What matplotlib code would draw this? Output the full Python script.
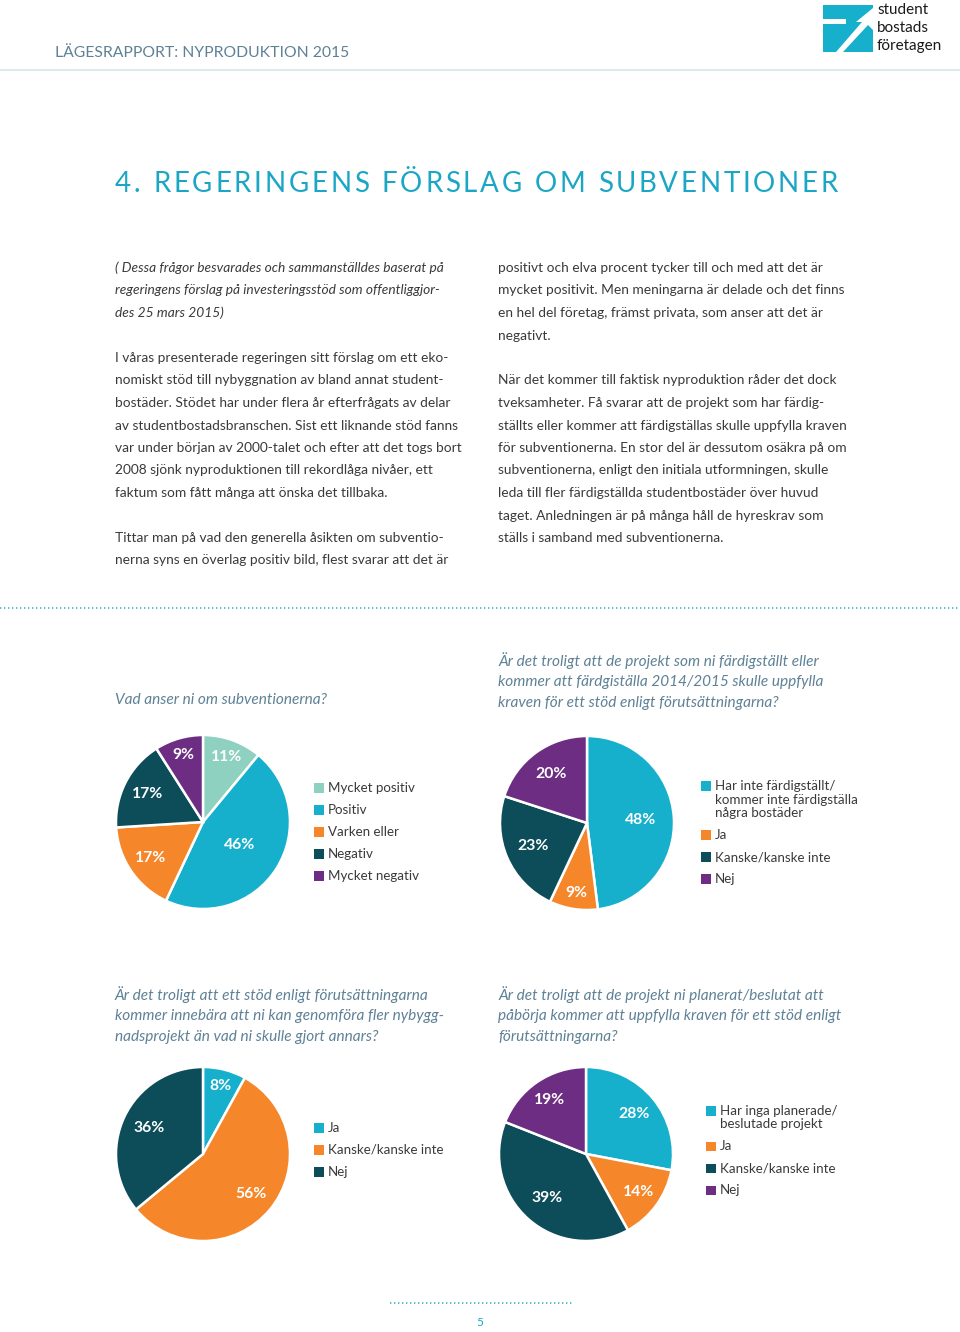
import numpy as np
import matplotlib.pyplot as plt
from matplotlib.patches import Rectangle, Polygon

plt.rcParams['font.family'] = ['Lato', 'DejaVu Sans']

# --- data -------------------------------------------------------------
q1_labels = ["Mycket positiv", "Positiv", "Varken eller", "Negativ", "Mycket negativ"]
q1_values = [11, 46, 17, 17, 9]

q2_labels = ["Har inte färdigställt/\nkommer inte färdigställa\nnågra bostäder", "Ja", "Kanske/kanske inte", "Nej"]
q2_values = [48, 9, 23, 20]

q3_labels = ["Ja", "Kanske/kanske inte", "Nej"]
q3_values = [8, 56, 36]

q4_labels = ["Har inga planerade/\nbeslutade projekt", "Ja", "Kanske/kanske inte", "Nej"]
q4_values = [28, 14, 39, 19]

LTEAL, CYAN, ORANGE, DARK, PURPLE = '#8fd1c1', '#17b0cc', '#f5862a', '#0d4d5a', '#6c2d82'
q1_colors = [LTEAL, CYAN, ORANGE, DARK, PURPLE]
q2_colors = [CYAN, ORANGE, DARK, PURPLE]
q3_colors = [CYAN, ORANGE, DARK]
q4_colors = [CYAN, ORANGE, DARK, PURPLE]

q1_title = "Vad anser ni om subventionerna?"
q2_title = ("Är det troligt att de projekt som ni färdigställt eller\n"
            "kommer att färdgiställa 2014/2015 skulle uppfylla\n"
            "kraven för ett stöd enligt förutsättningarna?")
q3_title = ("Är det troligt att ett stöd enligt förutsättningarna\n"
            "kommer innebära att ni kan genomföra fler nybygg-\n"
            "nadsprojekt än vad ni skulle gjort annars?")
q4_title = ("Är det troligt att de projekt ni planerat/beslutat att\n"
            "påbörja kommer att uppfylla kraven för ett stöd enligt\n"
            "förutsättningarna?")

intro_italic = ["( Dessa frågor besvarades och sammanställdes baserat på",
                "regeringens förslag på investeringsstöd som offentliggjor-",
                "des 25 mars 2015)"]
left_body = ["", "I våras presenterade regeringen sitt förslag om ett eko-",
             "nomiskt stöd till nybyggnation av bland annat student-",
             "bostäder. Stödet har under flera år efterfrågats av delar",
             "av studentbostadsbranschen. Sist ett liknande stöd fanns",
             "var under början av 2000-talet och efter att det togs bort",
             "2008 sjönk nyproduktionen till rekordlåga nivåer, ett",
             "faktum som fått många att önska det tillbaka.", "",
             "Tittar man på vad den generella åsikten om subventio-",
             "nerna syns en överlag positiv bild, flest svarar att det är"]
right_body = ["positivt och elva procent tycker till och med att det är",
              "mycket positivit. Men meningarna är delade och det finns",
              "en hel del företag, främst privata, som anser att det är",
              "negativt.", "",
              "När det kommer till faktisk nyproduktion råder det dock",
              "tveksamheter. Få svarar att de projekt som har färdig-",
              "ställts eller kommer att färdigställas skulle uppfylla kraven",
              "för subventionerna. En stor del är dessutom osäkra på om",
              "subventionerna, enligt den initiala utformningen, skulle",
              "leda till fler färdigställda studentbostäder över huvud",
              "taget. Anledningen är på många håll de hyreskrav som",
              "ställs i samband med subventionerna."]

# --- page -------------------------------------------------------------
W, H = 960, 1332
fig = plt.figure(figsize=(W / 100, H / 100), dpi=100)
page = fig.add_axes([0, 0, 1, 1])
page.set_xlim(0, W)
page.set_ylim(H, 0)
page.axis('off')

GREYBLUE = '#5e8196'
BODY = '#3a3a3a'
TITLE = '#1ba6c6'

# header
page.text(55, 53, "LÄGESRAPPORT: NYPRODUKTION 2015", fontsize=11.3, color=GREYBLUE, va='center')
page.plot([0, W], [70, 70], color='#dfe8ec', lw=1.5)

# logo
page.add_patch(Rectangle((823, 5), 50, 47, color=CYAN, lw=0))
page.add_patch(Polygon([(823, 19), (846, 19), (846, 24), (823, 24)], color='white', lw=0))
page.add_patch(Polygon([(836, 52), (862, 22), (856, 22), (873, 8), (873, 30), (868, 25), (843, 52)],
                       color='white', lw=0))
for i, w in enumerate(["student", "bostads", "företagen"]):
    page.text(877, 10 + 18 * i, w, fontsize=11, color='#1a1a1a', va='center')

# title with letter spacing
renderer = fig.canvas.get_renderer()


def text_width(s, **kw):
    t = page.text(0, 0, s + "|", **kw)
    t2 = page.text(0, 0, "|", **kw)
    w = t.get_window_extent(renderer).width - t2.get_window_extent(renderer).width
    t.remove()
    t2.remove()
    return w


def spaced_text(x0, x1, y, s, **kw):
    widths = [text_width(s[:i], **kw) for i in range(len(s) + 1)]
    last_w = text_width(s[-1], **kw)
    natural = widths[-2]
    track = (x1 - x0 - last_w - natural) / (len(s) - 1)
    for i, ch in enumerate(s):
        page.text(x0 + widths[i] + i * track, y, ch, va='center', **kw)


spaced_text(115, 838, 184, "4. REGERINGENS FÖRSLAG OM SUBVENTIONER", fontsize=20, color=TITLE)

# body text
LS = 22.5
FS = 9.9
for i, line in enumerate(intro_italic):
    page.text(115, 268 + i * LS, line, fontsize=FS, style='italic', color=BODY, va='center')
for i, line in enumerate(left_body):
    page.text(115, 268 + (i + 3) * LS, line, fontsize=FS, color=BODY, va='center')
for i, line in enumerate(right_body):
    page.text(498, 268 + i * LS, line, fontsize=FS, color=BODY, va='center')

# separators
page.plot([0, W], [608, 608], color='#3aaecb', lw=1.2, ls=(0, (0.8, 1.6)))
page.plot([390, 573], [1303, 1303], color='#3aaecb', lw=1.2, ls=(0, (0.8, 1.6)))
page.text(480, 1323, "5", fontsize=8.5, color=TITLE, ha='center', va='center')

# question titles
for x, y, q in [(115, 700, q1_title), (498, 661, q2_title), (115, 995, q3_title), (498, 995, q4_title)]:
    for k, line in enumerate(q.split("\n")):
        page.text(x, y + k * 21, line, fontsize=11.1, style='italic', color=GREYBLUE, va='center')


def draw_pie(cx, cy, r, values, colors, dists):
    ax = fig.add_axes([(cx - r) / W, 1 - (cy + r) / H, 2 * r / W, 2 * r / H])
    wedges, _ = ax.pie(values, colors=colors, startangle=90, counterclock=False,
                       wedgeprops=dict(edgecolor='white', linewidth=1.8))
    ax.set_xlim(-1, 1)
    ax.set_ylim(-1, 1)
    for w, v, d in zip(wedges, values, dists):
        ang = np.deg2rad((w.theta1 + w.theta2) / 2)
        ax.text(d * np.cos(ang), d * np.sin(ang), f"{v}%", ha='center', va='center',
                color='white', fontsize=11.3, fontweight='bold')


def draw_legend(x, y0, labels, colors):
    y = y0
    for lab, c in zip(labels, colors):
        page.add_patch(Rectangle((x, y - 5), 9.5, 9.5, color=c, lw=0))
        lines = lab.split("\n")
        for k, line in enumerate(lines):
            page.text(x + 14, y + k * 13.5, line, fontsize=9.6, color=BODY, va='center')
        y += (len(lines) - 1) * 13.5 + 22


draw_pie(203, 822, 87, q1_values, q1_colors, [0.8, 0.5, 0.73, 0.72, 0.8])
draw_legend(314, 788, q1_labels, q1_colors)

draw_pie(587, 823, 87, q2_values, q2_colors, [0.62, 0.81, 0.68, 0.7])
draw_legend(701, 786, q2_labels, q2_colors)

draw_pie(203, 1154, 87, q3_values, q3_colors, [0.81, 0.72, 0.69])
draw_legend(314, 1128, q3_labels, q3_colors)

draw_pie(586, 1154, 87, q4_values, q4_colors, [0.72, 0.74, 0.67, 0.75])
draw_legend(706, 1111, q4_labels, q4_colors)

fig.savefig("out.png", dpi=100, facecolor='white')
